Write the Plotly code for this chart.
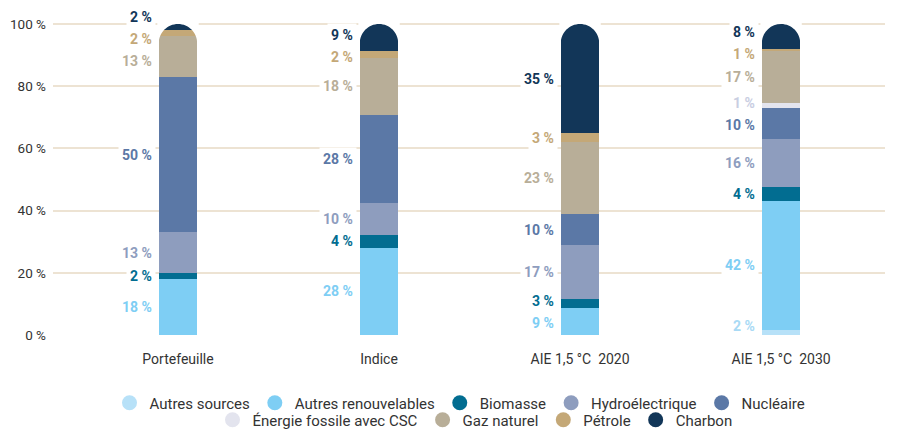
import plotly.graph_objects as go

categories = ["Portefeuille", "Indice", "AIE 1,5 °C  2020", "AIE 1,5 °C  2030"]
series_names = ["Autres sources", "Autres renouvelables", "Biomasse", "Hydroélectrique",
                "Nucléaire", "Énergie fossile avec CSC", "Gaz naturel", "Pétrole", "Charbon"]
autres_sources = [0, 0, 0, 1.6]
autres_renouvelables = [18, 28.1, 8.7, 41.6]
biomasse = [2, 4.1, 3.0, 4.3]
hydroelectrique = [13, 10.3, 17.1, 15.6]
nucleaire = [50, 28.2, 10.0, 10.0]
fossile_csc = [0, 0, 0, 1.4]
gaz_naturel = [13, 18.4, 23.2, 16.7]
petrole = [2, 2.1, 2.8, 0.8]
charbon = [2, 8.8, 35.2, 8.0]
y_ticks = [0, 20, 40, 60, 80, 100]
y_tick_labels = ["0 %", "20 %", "40 %", "60 %", "80 %", "100 %"]

series_values = [autres_sources, autres_renouvelables, biomasse, hydroelectrique,
                 nucleaire, fossile_csc, gaz_naturel, petrole, charbon]
colors = ["#B7E1F8", "#7ECEF4", "#026D91", "#8E9DBE", "#5B78A6",
          "#E3E4EE", "#B8AE98", "#C4A877", "#123658"]
label_colors = ["#A9DAF5", "#7ECEF4", "#026D91", "#8E9DBE", "#5B78A6",
                "#C9CEE2", "#B8AE98", "#C4A877", "#123658"]

BAR_W = 0.19
fig = go.Figure()
for name, vals, col in zip(series_names, series_values, colors):
    fig.add_trace(go.Bar(
        x=categories, y=vals, name=name, marker=dict(color=col, line=dict(width=0)),
        width=BAR_W, showlegend=False, hoverinfo="skip",
    ))

# legend entries (circles) split on two rows
row1 = series_names[:5]
for name, col in zip(series_names, colors):
    fig.add_trace(go.Scatter(
        x=[None], y=[None], mode="markers", name=name,
        marker=dict(size=15, color=col, symbol="circle"),
        legend="legend" if name in row1 else "legend2",
    ))


def spread(mids, gap=7.0, lo=3.0):
    ys = list(mids)
    for _ in range(300):
        for i in range(len(ys) - 1):
            d = ys[i + 1] - ys[i]
            if d < gap:
                m = (gap - d) / 2
                ys[i] -= m
                ys[i + 1] += m
        ys = [max(v, lo) for v in ys]
    return ys


annotations = []
shapes = []
r = 19.2  # half bar width in pixels -> semicircular cap
k = 0.5523 * r
left_mask = (f"M {-r-1.5},2 L {-r-1.5},{-r} L {-r},{-r} "
             f"C {-r},{-r+k} {-k},0 0,0 L 0,2 Z")
right_mask = (f"M {r+1.5},2 L {r+1.5},{-r} L {r},{-r} "
              f"C {r},{-r+k} {k},0 0,0 L 0,2 Z")
for ci, cat in enumerate(categories):
    base = 0.0
    items = []
    for si, vals in enumerate(series_values):
        v = vals[ci]
        if v > 0:
            items.append((base + v / 2, v, si))
        base += v
    total = base
    for p in (left_mask, right_mask):
        shapes.append(dict(
            type="path", xref="x", yref="y", xsizemode="pixel", ysizemode="pixel",
            xanchor=ci, yanchor=total, path=p,
            fillcolor="white", line=dict(width=0), layer="above",
        ))
    pos = spread([it[0] for it in items])
    for (mid, v, si), yp in zip(items, pos):
        annotations.append(dict(
            x=cat, y=yp, xref="x", yref="y", text=f"{round(v):d} %",
            showarrow=False, xanchor="right", yanchor="middle", xshift=-22,
            font=dict(family="Roboto", size=14, color=label_colors[si], weight="bold"),
            bgcolor="white", borderpad=3,
        ))

fig.update_layout(
    width=897, height=429,
    barmode="stack",
    plot_bgcolor="white", paper_bgcolor="white",
    margin=dict(l=53, r=12, t=14, b=94, autoexpand=False),
    font=dict(family="Roboto", color="#333333"),
    annotations=annotations,
    shapes=shapes,
    showlegend=True,
    legend=dict(orientation="h", x=460 / 897, xanchor="center", xref="container",
                y=1 - 403 / 429, yanchor="middle", yref="container", traceorder="normal",
                font=dict(size=15, color="#333333"), itemclick=False,
                bgcolor="rgba(0,0,0,0)"),
    legend2=dict(orientation="h", x=475 / 897, xanchor="center", xref="container",
                 y=1 - 420 / 429, yanchor="middle", yref="container", traceorder="normal",
                 font=dict(size=15, color="#333333"), itemclick=False,
                 bgcolor="rgba(0,0,0,0)"),
)
fig.update_xaxes(
    type="category", range=[-0.622, 3.517], showgrid=False, zeroline=False,
    showline=False, ticks="", tickfont=dict(size=14, color="#333333"),
    ticklabelstandoff=14,
)
fig.update_yaxes(
    range=[0, 103.2], tickvals=y_ticks, ticktext=y_tick_labels,
    showgrid=True, gridcolor="#EDE3D3", gridwidth=1.5, zeroline=False,
    showline=False, ticks="", tickfont=dict(size=13.5, color="#333333"),
    ticklabelstandoff=6,
)

fig.write_html("out.html", config={"displayModeBar": False},
               post_script="document.body.style.margin='0';document.body.style.padding='0';")
